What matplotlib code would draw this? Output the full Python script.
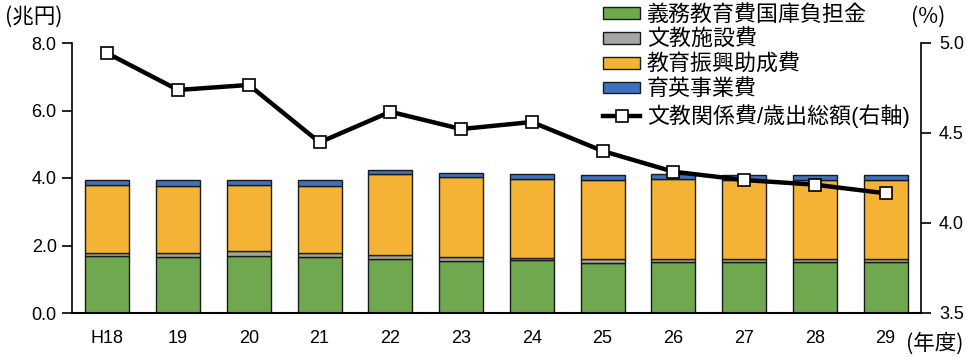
import matplotlib
matplotlib.use("Agg")
import matplotlib.pyplot as plt
from matplotlib.lines import Line2D
from matplotlib.patches import Patch
import numpy as np

plt.rcParams['font.family'] = ['Liberation Sans', 'Noto Sans CJK JP']

years = ["H18", "19", "20", "21", "22", "23", "24", "25", "26", "27", "28", "29"]
compulsory = [1.68, 1.67, 1.69, 1.65, 1.59, 1.55, 1.58, 1.47, 1.51, 1.51, 1.51, 1.51]
facilities = [0.10, 0.11, 0.15, 0.13, 0.14, 0.10, 0.04, 0.13, 0.10, 0.09, 0.09, 0.09]
promotion = [2.02, 1.98, 1.96, 1.99, 2.38, 2.38, 2.36, 2.34, 2.37, 2.33, 2.33, 2.33]
scholarship = [0.15, 0.18, 0.15, 0.18, 0.14, 0.13, 0.14, 0.14, 0.13, 0.15, 0.15, 0.15]
ratio = [4.943, 4.739, 4.767, 4.448, 4.618, 4.522, 4.561, 4.400, 4.285, 4.239, 4.213, 4.165]

labels = ["義務教育費国庫負担金", "文教施設費", "教育振興助成費", "育英事業費",
          "文教関係費/歳出総額(右軸)"]
colors = ["#70A850", "#A5A5A5", "#F4B335", "#3F72BE"]

fig = plt.figure(figsize=(9.67, 3.57), dpi=100)
ax = fig.add_axes([72/967, 1-313/357, (921-72)/967, (313-43)/357])
ax2 = ax.twinx()

x = np.arange(len(years))
w = 0.62
bottom = np.zeros(len(years))
for vals, c in zip([compulsory, facilities, promotion, scholarship], colors):
    ax.bar(x, vals, w, bottom=bottom, color=c, edgecolor="#1a1a1a", linewidth=1.0, zorder=2)
    bottom += np.array(vals)

ax2.plot(x, ratio, color="black", lw=3.2, marker="s", markersize=9,
         markerfacecolor="white", markeredgecolor="black", markeredgewidth=1.2, zorder=5)

ax.set_xlim(-0.5, len(years) - 0.5)
ax.set_ylim(0, 8)
ax.set_yticks([0, 2, 4, 6, 8])
ax.set_yticklabels(["0.0", "2.0", "4.0", "6.0", "8.0"])
ax2.set_ylim(3.5, 5.0)
ax2.set_yticks([3.5, 4.0, 4.5, 5.0])
ax2.set_yticklabels(["3.5", "4.0", "4.5", "5.0"])
ax.set_xticks(x)
ax.set_xticklabels(years)

for a in (ax, ax2):
    a.spines['top'].set_visible(False)
ax.spines['right'].set_visible(False)
ax2.spines['left'].set_visible(False)
ax2.spines['bottom'].set_visible(False)
ax.spines['left'].set_linewidth(1.2)
ax.spines['bottom'].set_linewidth(1.5)
ax2.spines['right'].set_linewidth(1.2)
ax.tick_params(axis='y', direction='out', length=7, width=1.2, labelsize=13, pad=4)
ax2.tick_params(axis='y', direction='out', length=7, width=1.2, labelsize=13, pad=6)
ax.tick_params(axis='x', length=0, labelsize=13, pad=12)

handles = [Patch(facecolor=c, edgecolor="#1a1a1a", linewidth=1.0) for c in colors]
handles.append(Line2D([0], [0], color="black", lw=3.2, marker="s", markersize=9,
                      markerfacecolor="white", markeredgecolor="black", markeredgewidth=1.2))
leg = fig.legend(handles, labels, loc="upper left", bbox_to_anchor=(603/967, 1-5/357),
                 frameon=False, fontsize=15.8, handlelength=1.7, handleheight=0.42,
                 handletextpad=0.3, labelspacing=0.17, borderpad=0, borderaxespad=0)

cjk = ['Noto Sans CJK JP']
fig.text(5/967, 1-17/357, "(兆円)", ha="left", va="center", fontsize=15.5, family=cjk)
fig.text(928/967, 1-17/357, "(%)", ha="center", va="center", fontsize=15.5, family=cjk)
fig.text(964/967, 1-344/357, "(年度)", ha="right", va="center", fontsize=15.5, family=cjk)

fig.savefig("out.png", dpi=100)
